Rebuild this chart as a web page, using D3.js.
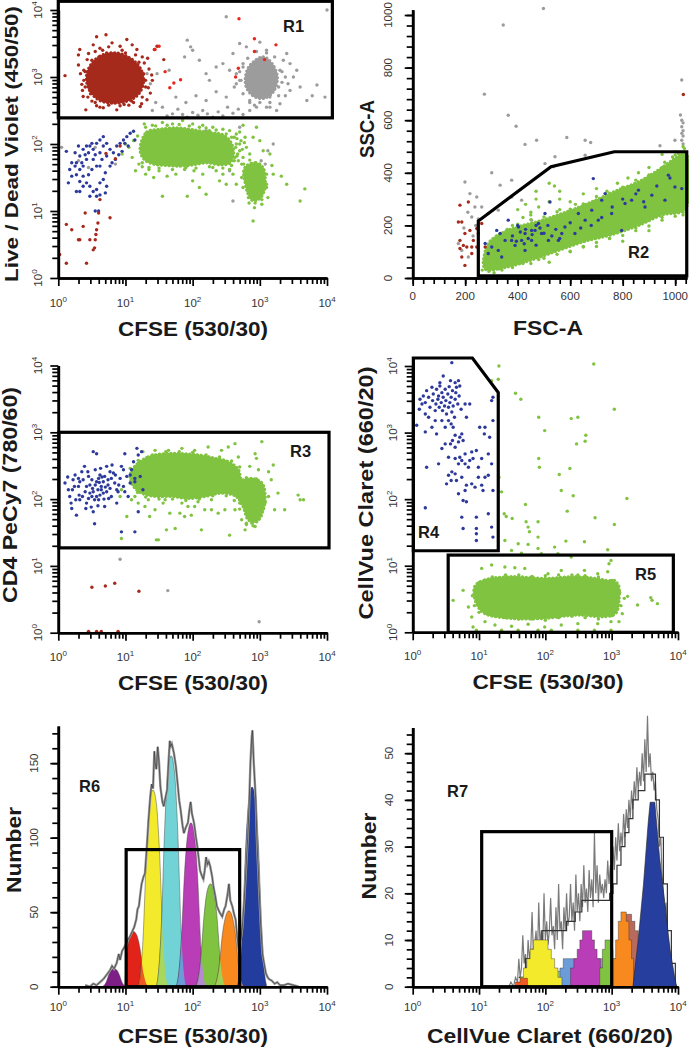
<!DOCTYPE html>
<html><head><meta charset="utf-8">
<script src="https://cdn.jsdelivr.net/npm/d3@7"></script>
<style>
body{margin:0;background:#fff;}
svg{display:block;}
text{font-family:"Liberation Sans",Arial,Helvetica,sans-serif;}
</style></head><body>
<svg id="c" width="689" height="1050"></svg>
<script>
// ===================== DATA =====================
// Log panels: values are log10 of the fluorescence intensity. Linear panel (FSC/SSC): raw channel values.
// ---- Panel 1: Live/Dead Violet vs CFSE ----
const p1DeadCoreLog = [[0.47,3.16],[0.62,3.31],[0.85,3.36],[1.07,3.28],[1.22,3.13],[1.27,2.94],[1.19,2.74],[1.02,2.64],[0.80,2.61],[0.60,2.66],[0.46,2.81],[0.42,2.99]];
const p1DeadDotsLog = [[0.10,3.02],[0.32,3.41],[0.30,3.18],[0.41,2.51],[0.57,2.57],[0.57,3.60],[0.71,3.63],[1.02,3.56],[0.98,2.59],[1.33,3.28],[1.43,3.41],[1.57,3.26],[1.39,3.03],[1.34,2.84],[1.32,2.66],[0.37,2.71],[0.30,3.33],[0.35,2.89],[0.40,3.08],[0.43,3.26],[0.62,3.43],[0.80,3.51],[0.92,3.46],[1.17,3.41],[1.28,3.21],[1.37,2.76],[1.22,2.56],[0.87,2.51],[0.67,2.54],[0.50,2.64],[1.09,2.64],[1.47,3.46],[0.52,3.48],[0.75,3.45],[1.10,3.48],[1.25,3.30],[1.30,2.95],[0.38,2.95],[0.45,3.35],
  [0.38,3.10],[0.40,2.85],[0.44,2.70],[0.50,3.25],[0.55,3.38],[0.66,3.40],[0.72,3.36],[0.95,3.40],[1.00,3.36],[1.15,3.33],[1.20,3.22],[1.27,3.05],[1.30,2.85],[1.25,2.70],[1.12,2.62],[0.92,2.57],[0.75,2.58],[0.55,2.62],[0.48,2.75],[1.35,3.12],[1.40,2.95],[0.33,3.05],[0.36,2.80],[0.62,2.55],[1.05,2.58],[1.24,2.60]];
const p1BrightRedLog = [[2.69,3.87],[2.92,3.57],[2.92,3.38],[2.68,3.13],[3.07,3.26],[3.24,3.48],[2.64,3.00],[1.59,3.08],[1.66,2.84],[1.82,2.96],[1.72,2.91],[1.50,3.46],[1.44,3.41]];
const p1LowRedLog = [[0.02,0.35],[0.12,0.22],[0.12,0.80],[0.20,0.72],[0.30,0.57],[0.32,0.57],[0.37,0.77],[0.40,0.97],[0.42,0.22],[0.47,0.57],[0.52,0.42],[0.55,0.57],[0.56,0.65],[0.57,0.72],[0.59,0.82],[0.60,0.97],[0.77,0.90],[0.54,0.45],[0.62,1.17],[0.85,1.78],[0.92,1.97],[0.71,1.86]];
const p1GrayCoreLog = [[2.86,3.18],[3.05,3.30],[3.18,3.20],[3.26,3.00],[3.20,2.78],[3.05,2.68],[2.90,2.72],[2.80,2.85],[2.79,3.02]];
const p1GrayDotsLog = [[1.40,2.50],[1.55,2.55],[1.62,2.42],[1.70,2.45],[1.78,2.52],[1.85,2.44],[1.92,2.40],[2.00,2.47],[2.08,2.43],[2.15,2.50],[2.22,2.45],[2.30,2.40],[2.38,2.48],[2.45,2.42],[2.52,2.55],[2.60,2.46],[2.68,2.52],[2.75,2.44],[2.85,2.50],[1.45,2.62],[1.75,2.70],[1.90,2.62],[2.05,2.72],[2.20,2.65],[2.35,2.78],[2.50,2.70],[2.62,2.85],[2.70,2.95],[1.65,3.10],[1.88,3.30],[1.92,3.55],[1.97,3.45],[2.00,3.40],[2.10,3.25],[2.20,3.05],[2.25,2.95],[2.35,3.15],[2.45,3.20],[2.55,3.10],[2.60,3.35],[2.70,3.50],[2.80,3.45],[2.50,3.90],[1.37,2.90],[1.32,3.05],[1.47,3.05],[3.30,2.60],[3.38,2.72],[3.42,2.90],[3.50,3.00],[3.55,3.10],[3.60,2.85],[3.70,2.65],[3.78,2.72],[3.85,2.88],[3.97,2.70],[4.00,4.00],[3.35,3.25],[3.45,3.20],[3.40,3.35],[3.00,3.52],[3.10,3.40],[3.15,2.55],[2.95,2.55],[3.25,2.50],[2.98,2.80],[2.90,3.10],[3.12,3.10],[2.65,3.05],[2.75,3.20],[3.28,2.85],[3.33,3.08],[2.85,2.62],[3.02,2.95],[3.15,2.70],
  [2.75,3.15],[2.82,3.28],[2.95,3.38],[3.10,3.36],[3.22,3.30],[3.30,3.10],[3.33,2.92],[3.28,2.72],[3.15,2.62],[3.00,2.62],[2.85,2.65],[2.75,2.75],[2.72,2.95],[2.70,3.08],[3.38,3.00],[3.45,2.80],[2.65,2.90],[2.92,2.58],[3.10,2.55],
  [1.30,1.90],[1.45,1.88],[1.60,2.05],[2.05,1.95],[2.20,2.20],[2.55,1.60],[3.02,1.75],[3.08,1.70],[3.12,1.90],[2.70,2.25],[0.30,1.75],[0.55,1.95],[0.45,1.65],[0.85,1.70],[3.20,2.00],[2.60,1.15],[0.05,1.95]];
const p1GreenCoreLog = [[1.24,2.04],[1.32,2.18],[1.52,2.22],[1.77,2.24],[2.01,2.21],[2.26,2.17],[2.44,2.14],[2.56,2.04],[2.61,1.87],[2.56,1.72],[2.41,1.69],[2.21,1.72],[2.01,1.69],[1.82,1.67],[1.62,1.68],[1.42,1.70],[1.28,1.77],[1.22,1.89]];
const p1GreenLowCoreLog = [[2.80,1.67],[2.94,1.72],[3.05,1.64],[3.08,1.47],[3.06,1.29],[2.99,1.18],[2.89,1.16],[2.82,1.27],[2.78,1.44],[2.76,1.59]];
const p1GreenDotsLog = [[1.05,1.95],[1.10,1.80],[1.12,2.05],[1.18,2.12],[1.20,1.70],[1.15,1.60],[0.95,1.85],[1.00,2.00],[1.28,2.30],[1.40,2.28],[1.55,2.32],[1.70,2.30],[1.85,2.35],[2.00,2.30],[2.15,2.28],[2.30,2.25],[2.45,2.22],[2.55,2.20],[2.65,2.15],[2.75,2.28],[2.95,2.25],[2.65,2.00],[2.70,1.90],[2.75,1.80],[2.68,1.75],[2.72,2.05],[2.80,1.95],[2.85,1.85],[2.90,2.10],[3.00,2.05],[3.05,1.90],[3.15,1.85],[3.18,1.68],[3.20,1.55],[3.10,1.40],[3.12,1.20],[2.92,1.05],[2.90,0.85],[3.32,1.52],[3.40,1.40],[3.67,1.33],[3.60,1.15],[2.00,1.45],[2.02,1.60],[2.10,1.35],[2.20,1.25],[1.92,1.22],[1.55,1.22],[1.42,1.50],[1.62,1.52],[1.75,1.55],[2.35,1.60],[2.45,1.55],[2.60,1.55],[2.65,1.40],[1.30,1.55],[1.50,1.60],[2.15,1.55],[2.40,1.45],[1.90,1.65],[2.30,1.65],[2.55,1.62],[2.50,1.40],[1.35,1.62],[1.25,1.66],[2.25,2.20],[1.60,2.20],[1.45,2.10],[2.48,1.95],[2.52,1.80],[3.00,1.62],[2.98,1.35],[2.84,1.12],[3.03,1.10],[2.62,2.10],[2.70,2.18],[2.78,2.10],[2.66,1.82],[2.73,1.70],
  [1.30,2.25],[1.45,2.27],[1.62,2.28],[1.80,2.29],[1.95,2.27],[2.10,2.25],[2.20,2.24],[2.35,2.21],[2.50,2.15],[2.58,2.10],[1.25,1.72],[1.35,1.65],[1.50,1.64],[1.70,1.62],[1.88,1.62],[2.05,1.64],[2.25,1.66],[2.45,1.64],[2.58,1.68],[2.63,1.80],[2.64,1.95],[2.67,1.85],[2.70,2.00],[2.74,1.92],[2.77,2.02],[2.62,1.75],[2.66,2.08],[2.76,1.70],[2.85,1.76],[3.00,1.70],[3.10,1.55],[3.10,1.35],[3.03,1.17],[2.93,1.12],[2.83,1.20],[2.75,1.35],[2.73,1.50]];
const p1BlueLog = [[0.12,1.89],[0.20,1.72],[0.27,1.72],[0.32,1.82],[0.37,1.92],[0.42,1.97],[0.47,1.97],[0.52,1.92],[0.57,2.01],[0.62,2.06],[0.67,2.11],[0.72,2.01],[0.77,1.92],[0.62,1.87],[0.52,1.77],[0.42,1.77],[0.37,1.67],[0.32,1.62],[0.27,1.54],[0.20,1.52],[0.15,1.42],[0.27,1.29],[0.32,1.29],[0.37,1.37],[0.42,1.42],[0.47,1.37],[0.52,1.29],[0.57,1.32],[0.62,1.42],[0.67,1.47],[0.72,1.37],[0.70,1.57],[0.62,1.67],[0.57,1.67],[0.50,1.62],[0.45,1.54],[0.37,1.52],[0.32,1.44],[0.47,1.22],[0.57,1.22],[0.62,1.24],[0.70,1.27],[0.17,1.62],[0.25,1.67],[0.40,1.84],[0.55,1.84],[0.65,1.77],[0.72,1.82],[0.82,1.87],[0.87,1.97],[0.92,2.01],[0.97,2.06],[1.02,2.11],[1.07,2.16],[1.12,2.19],[1.14,2.06],[1.04,1.97],[0.99,2.01],[0.95,1.89],[0.90,1.84],[0.85,1.77],[0.80,1.72],[0.77,1.67],[0.67,1.97],[0.50,2.01],[0.45,1.87],[0.35,1.72],[0.25,1.87],[0.30,1.97],[0.55,1.00],[0.60,1.00]];
// ---- Panel 2: SSC-A vs FSC-A (linear) ----
const p2GrayDots = [[498,1025],[345,962],[273,699],[364,619],[394,577],[301,400],[333,353],[377,372],[428,508],[472,524],[542,461],[587,534],[657,524],[678,515],[657,467],[504,435],[536,423],[942,503],[1025,753],[1025,600],[1025,575],[1025,550],[1025,524],[999,524],[1012,473],[199,365],[218,321],[237,270],[225,232],[174,131],[187,105],[212,80],[244,308],[263,270],[288,245],[377,308],[326,258],[415,296],[453,220],[1030,590],[1030,560],[1030,540],[1030,510],[1020,620],[240,200],[210,250],[230,160],[195,190],[250,225]];
const p2GreenCore = [[275,35],[350,40],[450,68],[555,105],[657,140],[758,165],[860,200],[949,240],[1038,262],[1038,478],[1000,455],[936,410],[860,365],[784,335],[707,300],[631,268],[555,240],[479,215],[403,195],[339,170],[288,130]];
const p2GreenDots = [[270,60],[300,80],[320,140],[350,170],[380,200],[420,230],[450,250],[480,270],[520,290],[560,300],[600,290],[650,320],[700,340],[740,330],[780,360],[820,380],[860,400],[900,420],[960,440],[1000,480],[1030,500],[990,460],[950,470],[400,260],[430,280],[470,300],[470,330],[540,350],[520,360],[450,240],[560,260],[620,280],[700,120],[750,150],[800,140],[850,190],[900,180],[950,230],[1000,250],[1030,240],[600,100],[650,120],[520,60],[480,70],[420,55],[380,40],[340,30],[300,40],[560,330],[700,180],[620,200],[880,300],[960,300],[600,130],[520,110],[440,80],[265,30],[275,55],[290,25],[310,20],[330,35],
  [300,60],[330,70],[360,55],[400,58],[450,55],[500,75],[550,90],[600,102],[650,118],[700,135],[750,150],[800,162],[850,180],[900,198],[950,220],[1000,235],[1030,250],[320,160],[360,185],[400,205],[450,222],[500,232],[550,252],[600,262],[650,282],[700,310],[750,322],[800,345],[850,372],[900,392],[950,420],[1000,468],[1035,492]];
const p2Blue = [[276,131],[301,118],[326,105],[333,169],[352,143],[364,220],[377,143],[403,194],[428,169],[428,105],[453,143],[466,181],[479,207],[504,245],[517,143],[523,289],[555,143],[580,194],[618,169],[631,245],[682,258],[688,378],[707,220],[720,296],[758,245],[796,181],[809,283],[834,296],[860,334],[885,270],[911,315],[961,296],[974,391],[999,346],[1025,340],[288,93],[339,80],[320,181],[390,124],[415,143],[453,181],[491,169],[568,169],[657,220],[733,321],
  [380,160],[395,140],[410,175],[425,130],[440,150],[455,165],[470,125],[485,190],[500,170],[515,200],[530,160],[545,185],[560,150],[470,200],[430,185],[400,200],[600,210],[640,190],[680,200],[720,230],[760,270],[800,300],[850,320],[880,290],[930,350],[980,380]];
const p2Red = [[180,277],[212,289],[174,213],[187,213],[199,169],[180,143],[193,124],[206,118],[225,118],[231,143],[218,181],[244,188],[263,207],[187,80],[199,48],[244,118],[276,118],[225,93],[180,112],[250,169],[1031,698]];
// ---- Panel 3: CD4 PeCy7 vs CFSE ----
const p3BlueLog = [[0.10,2.24],[0.15,2.14],[0.17,2.04],[0.20,1.86],[0.22,2.29],[0.25,2.36],[0.27,1.76],[0.30,2.19],[0.32,1.99],[0.35,2.41],[0.37,2.29],[0.40,2.11],[0.42,1.94],[0.45,2.34],[0.47,2.21],[0.50,2.04],[0.52,1.81],[0.54,1.63],[0.55,2.44],[0.57,2.26],[0.59,2.14],[0.60,1.99],[0.62,2.36],[0.64,2.19],[0.67,2.09],[0.69,1.89],[0.72,2.49],[0.74,2.29],[0.77,2.16],[0.79,2.04],[0.82,2.39],[0.84,2.24],[0.87,1.94],[0.89,2.11],[0.92,2.31],[0.94,2.49],[0.97,2.19],[0.99,2.68],[1.02,2.34],[1.04,2.04],[1.07,2.24],[1.09,2.44],[1.12,2.56],[1.14,2.31],[1.17,2.76],[1.19,2.66],[1.22,2.34],[1.24,2.71],[1.26,2.14],[1.14,2.26],[0.94,1.51],[1.14,1.51],[1.19,1.81],[0.57,2.68],[0.52,2.71],[0.39,2.49],[0.30,2.31],[0.24,2.19],[0.19,1.94],[0.42,2.19],[0.47,2.09],[0.51,2.16],[0.61,2.25],[0.65,2.33],[0.70,2.18],[0.75,2.01],[0.54,1.99],[0.41,1.86],[0.36,2.04],[0.31,2.06],[0.26,1.99],[0.44,2.41],[0.63,2.46],[0.80,2.51],[0.85,2.36],[0.90,2.21],[0.97,2.44],[0.87,2.14],[0.77,2.41],[0.68,2.00],[0.59,1.90],[0.49,1.88],[0.32,2.26],[0.21,2.14],[0.14,2.33],[0.99,2.11],[1.07,2.36],[0.50,2.29],[0.55,2.21],[0.60,2.31],[0.67,2.26],[0.72,2.11],[0.62,2.06],[0.52,2.11],[0.45,2.01],[0.57,2.04],[0.74,2.21],[0.79,2.31],[0.69,2.34],[0.64,2.14]];
const p3GreenCoreLog = [[1.14,2.49],[1.34,2.63],[1.59,2.68],[1.84,2.68],[2.08,2.66],[2.33,2.61],[2.53,2.56],[2.68,2.44],[2.73,2.29],[2.88,2.31],[3.03,2.24],[3.08,2.04],[3.05,1.84],[2.95,1.66],[2.83,1.69],[2.75,1.89],[2.65,2.04],[2.43,2.09],[2.18,2.04],[1.93,2.01],[1.69,2.04],[1.44,2.04],[1.24,2.09],[1.12,2.19],[1.07,2.34]];
const p3GreenDotsLog = [[0.94,1.41],[1.02,1.74],[0.94,2.14],[0.92,2.04],[1.09,1.99],[1.19,1.94],[1.29,1.89],[1.36,1.74],[1.44,1.84],[1.49,1.39],[1.56,1.94],[1.61,1.54],[1.66,1.79],[1.74,1.56],[1.81,1.79],[1.88,1.74],[1.93,1.89],[1.98,1.76],[2.03,1.89],[2.13,1.54],[2.18,1.84],[2.28,1.84],[2.38,1.79],[2.48,1.84],[2.55,1.46],[2.63,1.84],[2.70,1.94],[2.73,1.69],[2.80,1.64],[2.93,1.59],[3.13,2.04],[3.17,2.29],[3.20,2.51],[3.22,1.84],[3.27,2.09],[3.37,1.84],[3.57,2.06],[3.60,1.99],[3.65,1.99],[3.03,2.86],[2.93,2.68],[2.63,2.83],[2.53,2.78],[2.43,2.73],[2.23,2.78],[2.03,2.73],[1.84,2.76],[1.64,2.73],[1.44,2.73],[1.26,2.71],[1.19,2.58],[2.85,2.49],[2.95,2.61],[3.13,2.41],[2.68,2.63],[2.28,1.99],[2.08,1.96],[1.84,1.94],[1.59,1.99],[1.34,1.99],[1.14,2.04],[1.07,2.46],[2.78,1.54],[2.88,1.64],[3.00,1.81],[2.98,2.44],[2.58,2.14],[2.73,2.14],[1.46,1.39],
  [1.20,2.55],[1.40,2.66],[1.60,2.71],[1.80,2.71],[2.00,2.70],[2.20,2.66],[2.40,2.63],[2.58,2.57],[2.70,2.48],[1.18,2.10],[1.30,2.03],[1.50,2.00],[1.70,2.00],[1.90,1.98],[2.10,2.00],[2.30,2.05],[2.50,2.05],[2.62,1.98],[2.70,1.85],[2.80,1.62],[2.90,1.60],[3.02,1.75],[3.08,1.95],[3.06,2.15],[2.95,2.30],[2.80,2.32]];
const p3LowRedLog = [[0.50,0.68],[0.70,0.70],[0.84,0.74],[1.20,0.62],[0.45,0.02],[0.57,0.02],[0.64,0.02],[0.89,0.02]];
const p3LowGrayLog = [[0.92,1.10],[1.63,0.63],[2.99,0.165]];
// ---- Panel 4: CellVue Claret vs CFSE ----
const p4BlueLog = [[0.11,3.50],[0.16,3.55],[0.19,3.45],[0.21,3.63],[0.24,3.53],[0.26,3.38],[0.29,3.68],[0.30,3.48],[0.31,3.58],[0.34,3.33],[0.35,3.43],[0.36,3.65],[0.38,3.50],[0.39,3.55],[0.40,3.38],[0.41,3.70],[0.43,3.45],[0.44,3.60],[0.45,3.33],[0.46,3.53],[0.48,3.40],[0.49,3.65],[0.50,3.48],[0.51,3.28],[0.53,3.58],[0.54,3.38],[0.55,3.69],[0.56,3.45],[0.58,3.53],[0.59,3.31],[0.60,3.63],[0.61,3.40],[0.63,3.23],[0.64,3.50],[0.65,3.60],[0.66,3.68],[0.68,3.43],[0.69,3.78],[0.70,3.55],[0.71,3.70],[0.73,3.35],[0.24,3.23],[0.29,3.08],[0.34,3.18],[0.19,3.28],[0.14,3.43],[0.10,3.35],[0.06,3.11],[0.19,3.01],[0.36,2.98],[0.44,3.18],[0.49,3.08],[0.54,3.18],[0.58,3.13],[0.61,3.08],[0.64,2.96],[0.60,2.88],[0.57,2.83],[0.64,2.78],[0.69,2.86],[0.71,2.93],[0.74,2.98],[0.76,2.88],[0.79,3.43],[0.86,3.43],[0.81,3.23],[0.86,2.58],[0.89,2.71],[0.84,2.48],[0.79,2.53],[0.74,2.58],[0.69,2.53],[0.64,2.38],[0.59,2.41],[0.54,2.36],[0.51,2.23],[0.58,2.28],[0.66,2.28],[0.74,2.33],[0.81,2.21],[0.89,2.23],[0.94,2.18],[0.99,2.33],[1.04,2.21],[1.06,2.13],[1.09,2.33],[1.14,2.36],[1.19,2.53],[1.14,2.68],[1.04,2.61],[0.99,2.48],[0.96,2.73],[1.01,3.08],[1.09,3.08],[1.16,2.93],[1.21,3.18],[1.19,3.48],[1.21,3.53],[1.08,2.98],[0.91,2.61],[0.79,2.68],[0.71,2.63],[0.44,2.76],[0.54,2.63],[0.64,2.61],[0.21,2.48],[0.39,2.53],[0.49,2.83],[0.69,2.08],[0.76,1.98],[0.81,1.96],[0.79,2.13],[0.74,1.73],[0.76,1.56],[0.96,1.73],[0.96,1.56],[0.96,1.48],[0.96,1.38],[1.14,1.78],[1.19,1.58],[1.21,1.43],[1.21,2.13],[0.19,1.87],[0.59,4.05],[0.46,3.85],[0.57,3.78],[0.64,3.75],[0.41,3.75]];
const p4GreenCoreLog = [[0.935,0.684],[1.085,0.784],[1.485,0.834],[1.985,0.809],[2.485,0.834],[2.885,0.784],[3.085,0.734],[3.11,0.484],[3.06,0.285],[2.885,0.235],[2.485,0.26],[1.985,0.21],[1.485,0.21],[1.085,0.285],[0.96,0.434]];
const p4GreenDotsLog = [[0.61,0.48],[0.76,0.63],[0.84,0.38],[0.89,0.23],[0.91,0.08],[0.96,0.03],[1.04,0.96],[1.19,1.01],[1.39,0.98],[1.54,0.97],[1.69,0.96],[1.79,0.83],[2.04,0.88],[2.24,0.93],[2.49,0.86],[2.59,0.93],[2.79,0.88],[2.94,0.91],[2.96,1.03],[2.99,1.08],[3.04,0.78],[3.19,0.51],[3.24,0.54],[3.39,0.41],[3.59,0.52],[3.61,0.48],[3.69,0.43],[3.16,0.28],[3.11,0.16],[2.99,0.16],[2.79,0.13],[2.49,0.13],[2.24,0.11],[1.99,0.08],[1.74,0.12],[1.49,0.09],[1.24,0.11],[1.09,0.16],[1.34,0.03],[1.59,0.03],[1.89,0.03],[2.09,0.03],[2.49,0.03],[2.74,0.03],[2.99,0.03],[2.39,1.13],[2.19,1.18],[1.94,1.18],[1.64,1.19],[1.49,1.23],[1.39,1.38],[1.59,1.33],[1.74,1.32],[1.89,1.26],[2.14,1.28],[2.31,1.37],[2.59,1.36],[2.94,1.24],
  [1.0,0.75],[1.2,0.83],[1.4,0.86],[1.6,0.86],[1.8,0.84],[2.0,0.85],[2.2,0.86],[2.4,0.86],[2.6,0.85],[2.8,0.83],[3.0,0.78],[1.0,0.30],[1.2,0.25],[1.4,0.22],[1.6,0.20],[1.8,0.20],[2.0,0.18],[2.2,0.22],[2.4,0.24],[2.6,0.22],[2.8,0.20],[3.0,0.25],[0.90,0.55],[0.93,0.40],[3.12,0.60],[3.14,0.40],
  [1.30,4.00],[1.19,3.78],[1.29,3.80],[1.55,3.59],[1.63,3.50],[1.90,3.23],[1.99,3.03],[1.90,2.61],[1.91,2.48],[2.39,3.21],[2.47,2.83],[2.60,2.87],[2.61,2.96],[2.21,2.37],[2.37,2.46],[2.24,2.13],[2.42,2.05],[2.73,4.03],[3.04,3.35],[3.23,2.01],[2.75,1.72],[3.04,1.62],[1.70,1.92],[1.38,1.78],[1.41,1.74],[1.50,1.71],[1.71,1.66],[1.74,1.58],[1.89,1.66],[1.76,1.51],[1.89,1.43],[1.34,2.11],[1.30,2.33],[2.33,1.82],[2.49,3.23]];
// ---- Gates ----
const gateR1Log = {x:[0.0,4.08], y:[2.39,4.13]};
const gateR2 = [[250,8],[250,217],[527,423],[768,480],[1044,480],[1044,8]];
const gateR3Log = {x:[0.01,4.03], y:[1.27,3.0]};
const gateR4Log = [[0.01,1.225],[0.01,4.12],[0.9,4.12],[1.29,3.6],[1.29,1.225]];
const gateR5Log = {x:[0.535,3.93], y:[0.0,1.16]};
const gateR6 = {xLog:[1.01,2.70], y:[0,92]};
const gateR7 = {xLog:[1.04,3.0], y:[0,33.2]};
// ---- Panel 5: CFSE histogram, fitted generation peaks (log10 CFSE, count) ----
const p5Peaks = [
  {name:"purple",  pts:[[0.65,0],[0.68,0.8],[0.71,2.8],[0.755,8.4],[0.79,11.2],[0.83,12],[0.87,11.2],[0.905,8.4],[0.95,2.8],[0.98,0.8],[1.01,0]]},
  {name:"red",     pts:[[0.99,0],[1.00,8],[1.03,25],[1.07,34.4],[1.12,37],[1.17,34.4],[1.215,26],[1.27,8.7],[1.306,2.5],[1.34,0]]},
  {name:"yellow",  pts:[[1.19,0],[1.224,9],[1.26,31],[1.315,92],[1.36,123],[1.41,132],[1.46,123],[1.505,92],[1.56,31],[1.596,9],[1.63,0]]},
  {name:"cyan",    pts:[[1.46,0],[1.494,10.5],[1.53,36],[1.585,108],[1.63,144],[1.68,155],[1.73,144],[1.775,108],[1.83,36],[1.866,10.5],[1.90,0]]},
  {name:"magenta", pts:[[1.755,0],[1.789,7.5],[1.825,26],[1.88,77],[1.925,102],[1.975,110],[2.025,102],[2.07,77],[2.125,26],[2.161,7.5],[2.195,0]]},
  {name:"green",   pts:[[2.045,0],[2.079,4.7],[2.115,16],[2.17,48],[2.215,64],[2.265,69],[2.315,64],[2.36,48],[2.415,16],[2.451,4.7],[2.485,0]]},
  {name:"orange",  pts:[[2.32,0],[2.354,3.5],[2.39,12],[2.445,36],[2.49,47],[2.54,51],[2.59,47],[2.635,36],[2.69,12],[2.726,3.5],[2.76,0]]},
  {name:"blue",    pts:[[2.665,0],[2.699,9],[2.735,31.5],[2.79,94],[2.835,125],[2.885,134],[2.935,125],[2.98,94],[3.035,31.5],[3.071,9],[3.105,0]]}
];
// colour where two neighbouring generation peaks overlap
const p5OverlapNames = ["purpleRed","orangeRed","lime","lightBlue","lavender","oliveGreen","salmon"];
const p5Raw = [[0.40,1],[0.47,0],[0.52,2],[0.57,1],[0.62,3],[0.67,5],[0.72,8],[0.77,11],[0.80,14],[0.83,12],[0.87,16],[0.90,22],[0.92,18],[0.95,24],[0.99,27],[1.03,31],[1.07,34],[1.10,37],[1.13,40],[1.16,45],[1.18,52],[1.20,54],[1.22,62],[1.24,69],[1.27,74],[1.29,76],[1.32,95],[1.34,110],[1.37,128],[1.39,136],[1.41,133],[1.43,158],[1.44,150],[1.46,146],[1.48,161],[1.50,150],[1.52,134],[1.55,124],[1.57,121],[1.60,128],[1.62,132],[1.64,150],[1.66,165],[1.67,161],[1.69,163],[1.72,157],[1.75,148],[1.77,139],[1.80,125],[1.82,119],[1.85,108],[1.87,103],[1.90,107],[1.93,110],[1.95,118],[1.97,124],[1.99,116],[2.02,110],[2.05,100],[2.07,94],[2.09,86],[2.11,78],[2.14,74],[2.16,72],[2.18,78],[2.20,87],[2.22,82],[2.24,84],[2.26,81],[2.29,74],[2.31,67],[2.34,60],[2.36,54],[2.40,50],[2.44,47],[2.47,52],[2.49,54],[2.52,62],[2.54,69],[2.56,58],[2.59,54],[2.62,48],[2.64,45],[2.66,35],[2.69,22],[2.71,30],[2.74,40],[2.77,60],[2.79,76],[2.82,100],[2.84,121],[2.86,150],[2.88,168],[2.89,172],[2.91,150],[2.94,125],[2.96,95],[2.99,65],[3.01,45],[3.04,22],[3.07,14],[3.09,9],[3.12,6],[3.14,5],[3.18,4],[3.22,2],[3.26,3],[3.30,1],[3.36,1],[3.42,2],[3.50,1],[3.58,0]];
// ---- Panel 6: CellVue Claret histogram (log10 intensity, count), step bins ----
const p6Peaks = [
  {name:"lime",     pts:[[1.95,2],[2.00,3.3],[2.30,2],[2.37,0]]},
  {name:"lightBlue",pts:[[2.22,4],[2.27,6],[2.47,4],[2.52,2],[2.57,0]]},
  {name:"lavender", pts:[[2.67,4],[2.72,6],[2.90,4],[2.95,2],[3.00,0]]},
  {name:"yellow",   pts:[[1.62,2],[1.67,4],[1.72,6],[1.77,8],[1.82,10],[2.04,8],[2.09,6],[2.14,4],[2.19,2],[2.25,0]]},
  {name:"magenta",  pts:[[2.38,4],[2.43,6],[2.48,8],[2.52,10],[2.56,12],[2.70,10],[2.74,8],[2.78,6],[2.83,4],[2.87,0]]},
  {name:"green",    pts:[[2.82,4],[2.86,8],[2.90,10],[2.98,8],[3.02,6],[3.06,4],[3.10,2],[3.15,0]]},
  {name:"brown",    pts:[[3.14,12],[3.18,15.5],[3.30,14],[3.35,12],[3.40,10],[3.45,8],[3.50,6],[3.55,4],[3.62,2],[3.70,0]]},
  {name:"orange",   pts:[[3.02,6],[3.06,10],[3.10,14],[3.14,16],[3.22,14],[3.26,10],[3.30,6],[3.33,0]]},
  {name:"orangeRed",pts:[[1.55,1],[1.62,1.8],[1.73,0]]}
];
const p6BluePeak = [[3.32,0],[3.40,10],[3.48,22],[3.55,35],[3.58,39.5],[3.65,39.5],[3.72,28],[3.80,18],[3.88,8],[3.95,2],[3.98,0]];
const p6Raw = [[1.45,0],[1.48,1],[1.52,0],[1.55,2],[1.58,1],[1.60,6],[1.62,2],[1.64,4],[1.66,11],[1.68,5],[1.70,7],[1.72,3],[1.74,10],[1.76,6],[1.78,8],[1.80,16],[1.82,7],[1.84,9],[1.86,12],[1.88,6],[1.90,18],[1.92,9],[1.94,12],[1.96,8],[1.98,20],[2.00,10],[2.02,14],[2.04,9],[2.06,12],[2.08,19],[2.10,11],[2.12,13],[2.14,8],[2.16,17],[2.18,10],[2.20,22],[2.22,12],[2.24,14],[2.26,8],[2.28,17],[2.30,12],[2.32,20],[2.34,13],[2.36,15],[2.38,22],[2.40,14],[2.42,18],[2.44,12],[2.46,24],[2.48,16],[2.50,20],[2.52,14],[2.54,22],[2.56,17],[2.58,26],[2.60,18],[2.62,21],[2.64,16],[2.66,25],[2.68,19],[2.70,23],[2.72,17],[2.74,33],[2.76,20],[2.78,26],[2.80,18],[2.82,24],[2.84,20],[2.86,22],[2.88,19],[2.90,23],[2.92,20],[2.94,27],[2.96,22],[2.98,26],[3.00,24],[3.02,30],[3.04,25],[3.06,32],[3.08,27],[3.10,35],[3.12,29],[3.14,33],[3.16,30],[3.18,37],[3.20,32],[3.22,38],[3.24,34],[3.26,40],[3.28,36],[3.30,42],[3.32,38],[3.34,44],[3.36,40],[3.38,47],[3.40,42],[3.42,46],[3.44,43],[3.46,50],[3.48,44],[3.50,53],[3.52,46],[3.54,58],[3.56,47],[3.58,50],[3.60,44],[3.62,46],[3.64,42],[3.66,44],[3.68,38],[3.70,36],[3.72,30],[3.74,32],[3.76,24],[3.78,20],[3.80,16],[3.82,18],[3.84,11],[3.86,9],[3.88,6],[3.90,4],[3.92,3],[3.95,1],[3.98,0]];
const p6Binned = [[1.60,2],[1.70,6],[1.80,8],[1.95,12],[2.32,14],[2.45,16],[2.55,18.5],[2.97,20],[3.02,22],[3.08,26],[3.14,30],[3.20,33],[3.26,36],[3.32,40],[3.40,42],[3.50,45.5],[3.66,40],[3.72,32],[3.78,22],[3.84,12],[3.90,5],[3.96,0]];
// ---- Tick labels ----
const logExps = ["0","1","2","3","4"];
const linTicksFSC = [0,200,400,600,800,1000];
const countTicks5 = [0,50,100,150];
const countTicks6 = [0,10,20,30,40,50];

// ===================== STYLE =====================
const COL = {
  darkRed:"#a52a1c", brightRed:"#e8261c", gray:"#9c9c9c", green:"#80c341", blue:"#2d3a9c",
  purple:"#7e1f87", red:"#e2231a", orangeRed:"#f05a22", yellow:"#f3ea2c", lime:"#a9d65c",
  cyan:"#72d3d6", lightBlue:"#6b9cd8", magenta:"#b93db6", lavender:"#b48ad0", lightGreen:"#82d06c",
  oliveGreen:"#9fcf55", purpleRed:"#b0204f", salmon:"#d77c62", orange:"#f7891f", brown:"#b86a5e",
  h6blue:"#263f9e", h5blue:"#233d9e"
};
const P = v => Math.pow(10, v);
const svg = d3.select("#c");
const defs = svg.append("defs");

// ===================== SCALES =====================
const xL = d3.scaleLog().domain([1,1e4]).range([58.3,327]);
const xR = d3.scaleLog().domain([1,1e4]).range([412.7,678]);
const y1 = d3.scaleLog().domain([1,1e4]).range([278,10]);
const x2 = d3.scaleLinear().domain([0,1045]).range([412.7,412.7+0.2625*1045]);
const y2 = d3.scaleLinear().domain([0,1020]).range([278,278-0.263*1020]);
const y3 = d3.scaleLog().domain([1,1e4]).range([632.7,365.5]);
const y4 = d3.scaleLog().domain([1,1e4]).range([632.3,366]);
const y5 = d3.scaleLinear().domain([0,175]).range([986.7,725.9]);
const y6 = d3.scaleLinear().domain([0,55.5]).range([986.7,727.5]);

// ===================== HELPERS =====================
const majors = [1,10,100,1000,10000];
const minors = [];
for (let e=0;e<4;e++) for (let m=2;m<10;m++) minors.push(m*Math.pow(10,e));

function styleAxis(g, w){
  g.select(".domain").attr("stroke","#000").attr("stroke-width",w||2.6);
  g.selectAll(".tick line").attr("stroke","#000").attr("stroke-width",1.7);
  g.selectAll(".tick text").remove();
}
function logLabel(g, x, y, exp, rotate){
  const t = g.append("text")
    .attr("transform", `translate(${x},${y})` + (rotate ? " rotate(-90)" : ""))
    .attr("text-anchor","middle").attr("font-size",11.5).attr("fill","#333");
  t.append("tspan").text("10");
  t.append("tspan").attr("font-size",8).attr("dy",-5).text(exp);
}
function logAxisX(xs, y, off){
  const g1 = svg.append("g").attr("transform",`translate(0,${y})`)
    .call(d3.axisBottom(xs).tickValues(minors).tickSize(6).tickSizeOuter(0));
  styleAxis(g1);
  const g2 = svg.append("g").attr("transform",`translate(0,${y})`)
    .call(d3.axisBottom(xs).tickValues(majors).tickSize(8).tickSizeOuter(0));
  styleAxis(g2);
  majors.forEach((v,i)=> logLabel(svg, xs(v), y+off, logExps[i], false));
}
function logAxisY(ys, x, off){
  const g1 = svg.append("g").attr("transform",`translate(${x},0)`)
    .call(d3.axisLeft(ys).tickValues(minors).tickSize(6).tickSizeOuter(0));
  styleAxis(g1);
  const g2 = svg.append("g").attr("transform",`translate(${x},0)`)
    .call(d3.axisLeft(ys).tickValues(majors).tickSize(8).tickSizeOuter(0));
  styleAxis(g2);
  majors.forEach((v,i)=> logLabel(svg, x-off, ys(v), logExps[i], true));
}
function linAxisX(xs, y, minorVals, majorVals, off){
  const g1 = svg.append("g").attr("transform",`translate(0,${y})`)
    .call(d3.axisBottom(xs).tickValues(minorVals).tickSize(6).tickSizeOuter(0));
  styleAxis(g1);
  const g2 = svg.append("g").attr("transform",`translate(0,${y})`)
    .call(d3.axisBottom(xs).tickValues(majorVals).tickSize(8).tickSizeOuter(0));
  styleAxis(g2);
  majorVals.forEach(v=> svg.append("text").attr("x",xs(v)).attr("y",y+off)
    .attr("text-anchor","middle").attr("font-size",11.5).attr("fill","#333").text(v));
}
function linAxisY(ys, x, minorVals, majorVals, off){
  const g1 = svg.append("g").attr("transform",`translate(${x},0)`)
    .call(d3.axisLeft(ys).tickValues(minorVals).tickSize(6).tickSizeOuter(0));
  styleAxis(g1);
  const g2 = svg.append("g").attr("transform",`translate(${x},0)`)
    .call(d3.axisLeft(ys).tickValues(majorVals).tickSize(8).tickSizeOuter(0));
  styleAxis(g2);
  majorVals.forEach(v=> svg.append("text")
    .attr("transform",`translate(${x-off},${ys(v)}) rotate(-90)`)
    .attr("text-anchor","middle").attr("font-size",11.5).attr("fill","#333").text(v));
}
function titleX(txt, cx, base, len){
  svg.append("text").attr("x",cx).attr("y",base).attr("text-anchor","middle")
    .attr("font-size",20).attr("font-weight","bold").attr("fill","#1a1a1a")
    .attr("textLength",len).attr("lengthAdjust","spacingAndGlyphs").text(txt);
}
function titleY(txt, base, cy, len, fs){
  svg.append("text").attr("transform",`translate(${base},${cy}) rotate(-90)`)
    .attr("text-anchor","middle").attr("font-size",fs||20).attr("font-weight","bold").attr("fill","#1a1a1a")
    .attr("textLength",len).attr("lengthAdjust","spacingAndGlyphs").text(txt);
}
function gateLabel(txt, x, y){
  svg.append("text").attr("x",x).attr("y",y).attr("font-size",16.5)
    .attr("font-weight","bold").attr("fill","#1a1a1a").text(txt);
}
function dots(data, fx, fy, color, r){
  svg.append("g").selectAll("circle").data(data).join("circle")
    .attr("cx",d=>fx(d[0])).attr("cy",d=>fy(d[1])).attr("r",r||1.7).attr("fill",color);
}
function hull(data, fx, fy, color){
  const line = d3.line().x(d=>fx(d[0])).y(d=>fy(d[1])).curve(d3.curveCatmullRomClosed.alpha(0.5));
  const d = line(data);
  svg.append("path").attr("d",d).attr("fill",color).attr("stroke",color).attr("stroke-width",1);
  // dotted rim so the dense cloud keeps a speckled edge
  svg.append("path").attr("d",d).attr("fill","none").attr("stroke",color)
    .attr("stroke-width",3.4).attr("stroke-linecap","round").attr("stroke-dasharray","0.01 3.8");
}
const gateStroke = {stroke:"#000", w:3.2};
function rectGate(x0,x1,y0,y1){
  svg.append("rect").attr("x",Math.min(x0,x1)).attr("y",Math.min(y0,y1))
    .attr("width",Math.abs(x1-x0)).attr("height",Math.abs(y1-y0))
    .attr("fill","none").attr("stroke",gateStroke.stroke).attr("stroke-width",gateStroke.w);
}
function polyGate(pts){
  svg.append("path").attr("d","M"+pts.map(p=>p.join(",")).join("L")+"Z")
    .attr("fill","none").attr("stroke",gateStroke.stroke).attr("stroke-width",gateStroke.w)
    .attr("stroke-linejoin","miter");
}

// ===================== PANEL 1 =====================
{
  const fx = v=>xL(P(v)), fy = v=>y1(P(v));
  dots(p1GrayDotsLog, fx, fy, COL.gray);
  hull(p1GrayCoreLog, fx, fy, COL.gray);
  hull(p1GreenCoreLog, fx, fy, COL.green);
  hull(p1GreenLowCoreLog, fx, fy, COL.green);
  dots(p1GreenDotsLog, fx, fy, COL.green);
  dots(p1BlueLog, fx, fy, COL.blue);
  hull(p1DeadCoreLog, fx, fy, COL.darkRed);
  dots(p1DeadDotsLog, fx, fy, COL.darkRed);
  dots(p1LowRedLog, fx, fy, COL.darkRed);
  dots(p1BrightRedLog, fx, fy, COL.brightRed);
  logAxisX(xL, 278, 29);
  logAxisY(y1, 58.3, 16);
  rectGate(fx(gateR1Log.x[0]), fx(gateR1Log.x[1]), fy(gateR1Log.y[0]), fy(gateR1Log.y[1]));
  gateLabel("R1", 283, 32);
  titleX("CFSE (530/30)", 193, 336, 150);
  titleY("Live / Dead Violet (450/50)", 18, 144, 276, 19);
}
// ===================== PANEL 2 =====================
{
  const fx = v=>x2(v), fy = v=>y2(v);
  dots(p2GrayDots, fx, fy, COL.gray);
  hull(p2GreenCore, fx, fy, COL.green);
  dots(p2GreenDots, fx, fy, COL.green);
  dots(p2Blue, fx, fy, COL.blue);
  dots(p2Red, fx, fy, COL.darkRed);
  linAxisX(x2, 278, d3.range(0,1041,40), linTicksFSC, 22);
  linAxisY(y2, 412.7, d3.range(0,1001,40), linTicksFSC, 21);
  polyGate(gateR2.map(d=>[fx(d[0]),fy(d[1])]));
  gateLabel("R2", 628, 258);
  titleX("FSC-A", 548, 335, 70);
  titleY("SSC-A", 374, 129, 58);
}
// ===================== PANEL 3 =====================
{
  const fx = v=>xL(P(v)), fy = v=>y3(P(v));
  hull(p3GreenCoreLog, fx, fy, COL.green);
  dots(p3GreenDotsLog, fx, fy, COL.green);
  dots(p3BlueLog, fx, fy, COL.blue);
  dots(p3LowRedLog, fx, fy, COL.darkRed);
  dots(p3LowGrayLog, fx, fy, COL.gray);
  logAxisX(xL, 632.7, 28);
  logAxisY(y3, 58.3, 16);
  rectGate(fx(gateR3Log.x[0]), fx(gateR3Log.x[1]), fy(gateR3Log.y[0]), fy(gateR3Log.y[1]));
  gateLabel("R3", 290, 457);
  titleX("CFSE (530/30)", 193, 690, 150);
  titleY("CD4 PeCy7 (780/60)", 17, 495, 216);
}
// ===================== PANEL 4 =====================
{
  const fx = v=>xR(P(v)), fy = v=>y4(P(v));
  hull(p4GreenCoreLog, fx, fy, COL.green);
  dots(p4GreenDotsLog, fx, fy, COL.green);
  dots(p4BlueLog, fx, fy, COL.blue);
  logAxisX(xR, 632.3, 28);
  logAxisY(y4, 412.7, 16);
  polyGate(gateR4Log.map(d=>[fx(d[0]),fy(d[1])]));
  rectGate(fx(gateR5Log.x[0]), fx(gateR5Log.x[1]), fy(gateR5Log.y[0]), fy(gateR5Log.y[1]));
  gateLabel("R4", 418, 538);
  gateLabel("R5", 635, 580);
  titleX("CFSE (530/30)", 548, 689, 151);
  titleY("CellVue Claret (660/20)", 373, 493, 253);
}
// ===================== PANEL 5 =====================
{
  const fx = v=>xL(P(v)), fy = v=>y5(v);
  const area = d3.area().x(d=>fx(d[0])).y0(fy(0)).y1(d=>fy(d[1])).curve(d3.curveMonotoneX);
  p5Peaks.forEach((pk,i)=>{
    const c = pk.name==="blue" ? COL.h5blue : COL[pk.name];
    svg.append("path").attr("d",area(pk.pts)).attr("fill",c)
      .attr("stroke","#333").attr("stroke-width",0.6).attr("stroke-opacity",0.7);
    // overlap with the previous generation drawn in the blended colour
    if (i>0){
      const id = "p5clip"+i;
      defs.append("clipPath").attr("id",id).append("path").attr("d",area(p5Peaks[i-1].pts));
      svg.append("path").attr("d",area(pk.pts)).attr("clip-path",`url(#${id})`)
        .attr("fill",COL[p5OverlapNames[i-1]]).attr("stroke","#333").attr("stroke-width",0.5).attr("stroke-opacity",0.6);
    }
  });
  const line = d3.line().x(d=>fx(d[0])).y(d=>fy(d[1])).curve(d3.curveLinear);
  svg.append("path").attr("d",line(p5Raw)).attr("fill","none").attr("stroke","#9a9a9a").attr("stroke-width",2.4);
  svg.append("path").attr("d",line(p5Raw)).attr("fill","none").attr("stroke","#3a3a3a").attr("stroke-width",0.7);
  logAxisX(xL, 986.7, 24);
  linAxisY(y5, 58.3, d3.range(0,171,10), countTicks5, 20);
  rectGate(fx(gateR6.xLog[0]), fx(gateR6.xLog[1]), fy(gateR6.y[0]), fy(gateR6.y[1]));
  gateLabel("R6", 79, 792);
  titleX("CFSE (530/30)", 193, 1043, 150);
  titleY("Number", 21, 850, 86);
}
// ===================== PANEL 6 =====================
{
  const fx = v=>xR(P(v)), fy = v=>y6(v);
  const stepArea = d3.area().x(d=>fx(d[0])).y0(fy(0)).y1(d=>fy(d[1])).curve(d3.curveStepAfter);
  const line = d3.line().x(d=>fx(d[0])).y(d=>fy(d[1]));
  svg.append("path").attr("d",line(p6Raw)).attr("fill","none").attr("stroke","#7a7a7a").attr("stroke-width",1.2);
  svg.append("path").attr("d",d3.line().x(d=>fx(d[0])).y(d=>fy(d[1])).curve(d3.curveStepAfter)(p6Binned))
    .attr("fill","none").attr("stroke","#333").attr("stroke-width",1.2);
  p6Peaks.forEach(pk=>{
    svg.append("path").attr("d",stepArea(pk.pts.concat([[pk.pts[pk.pts.length-1][0],0]])))
      .attr("fill",COL[pk.name])
      .attr("stroke","#333").attr("stroke-width",0.6).attr("stroke-opacity",0.7);
  });
  svg.append("path").attr("d",line(p6BluePeak)+"Z").attr("fill",COL.h6blue)
    .attr("stroke","#222").attr("stroke-width",0.6);
  logAxisX(xR, 986.7, 24);
  linAxisY(y6, 412.7, d3.range(0,55,2), countTicks6, 20);
  rectGate(fx(gateR7.xLog[0]), fx(gateR7.xLog[1]), fy(gateR7.y[0]), fy(gateR7.y[1]));
  gateLabel("R7", 447, 797);
  titleX("CellVue Claret (660/20)", 550, 1043, 246);
  titleY("Number", 376, 856, 87);
}
</script>
</body></html>
